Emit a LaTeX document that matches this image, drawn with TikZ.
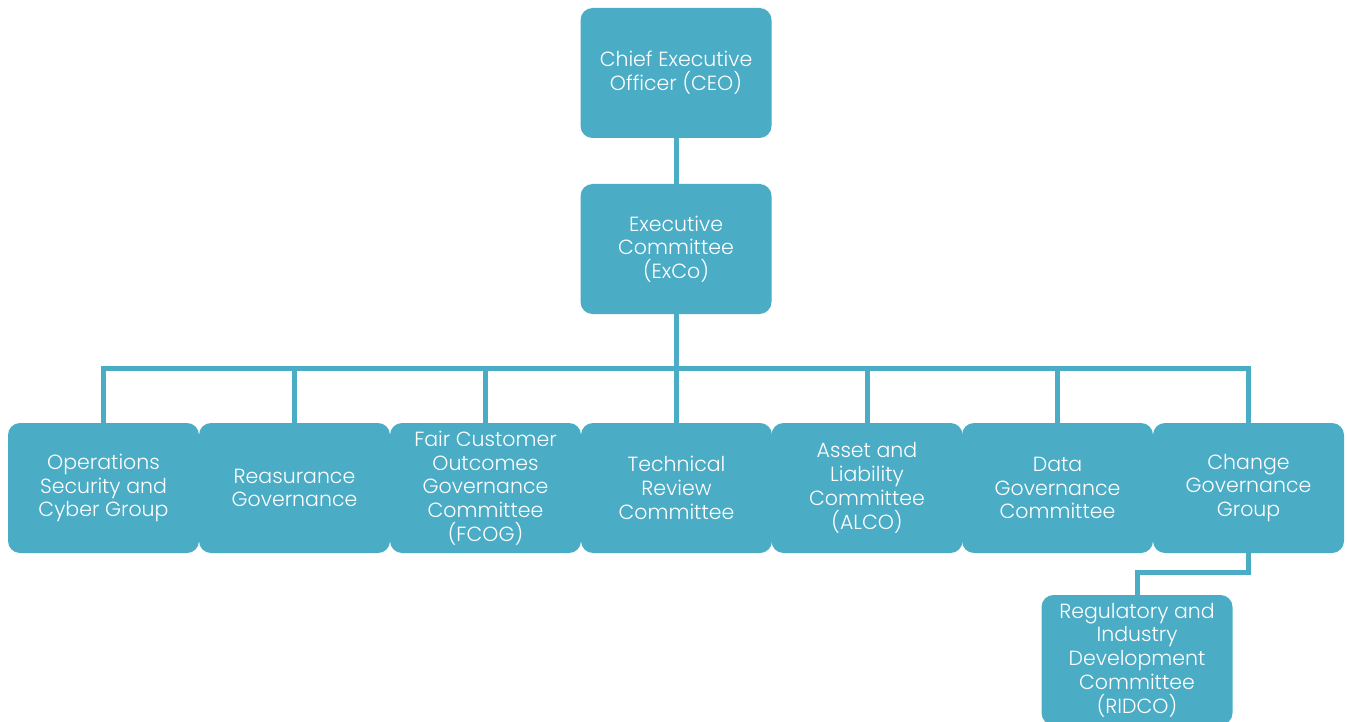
\documentclass[tikz,border=0pt]{standalone}
\usepackage{fontspec}
\setmainfont{Poppins Light}
\usetikzlibrary{calc}
\definecolor{boxblue}{HTML}{4BACC6}
\tikzset{
  orgbox/.style={fill=boxblue, rounded corners=12pt, minimum width=191pt, minimum height=130pt,
    inner sep=0pt, text=white, align=center, font=\fontsize{20.5}{23.8}\selectfont},
  link/.style={draw=boxblue, line width=5pt, line join=miter}
}
\begin{document}
\begin{tikzpicture}[x=1pt,y=1pt]
\useasboundingbox (0,0) rectangle (1347,-722);
\node[orgbox] (ceo) at (676,-73) {Chief Executive\\Officer (CEO)};
\node[orgbox] (exco) at (676,-249) {Executive\\Committee\\(ExCo)};
\node[orgbox] (n1) at (103.5,-488) {Operations\\Security and\\Cyber Group};
\node[orgbox] (n2) at (294.5,-488) {Reasurance\\Governance};
\node[orgbox] (n3) at (485.5,-488) {Fair Customer\\Outcomes\\Governance\\Committee\\(FCOG)};
\node[orgbox] (n4) at (676.5,-488) {Technical\\Review\\Committee};
\node[orgbox] (n5) at (867,-488) {Asset and\\Liability\\Committee\\(ALCO)};
\node[orgbox] (n6) at (1057.5,-488) {Data\\Governance\\Committee};
\node[orgbox] (n7) at (1248.5,-488) {Change\\Governance\\Group};
\node[orgbox] (ridco) at (1137,-660) {Regulatory and\\Industry\\Development\\Committee\\(RIDCO)};
\coordinate (bus) at (676,-368.5);
\draw[link] (ceo) -- (exco);
\draw[link] (exco.south) -- (bus);
\draw[link] (n1.north) |- (bus) -| (n7.north);
\foreach \n in {n2,n3,n4,n5,n6}{\draw[link] (\n.north) -- (\n.north |- bus);}
\draw[link] (n7.south) |- ($(ridco.north)+(0,22)$) -| (ridco.north);
\end{tikzpicture}
\end{document}
